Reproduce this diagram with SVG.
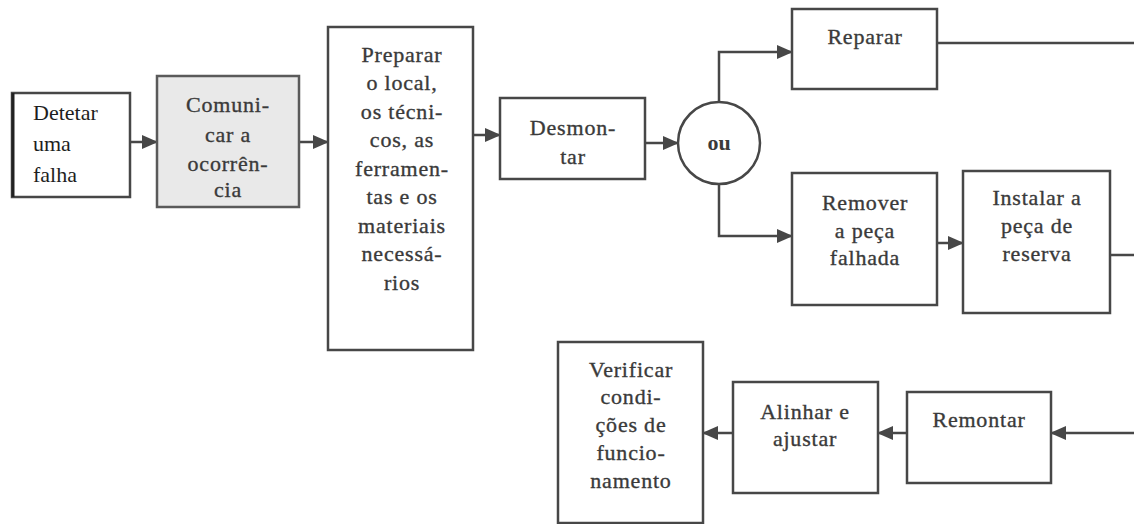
<svg xmlns="http://www.w3.org/2000/svg" width="1134" height="524" viewBox="0 0 1134 524">
  <style>
    .box { fill: #ffffff; stroke: #474747; stroke-width: 2.5; }
    .shaded { fill: #e9e9e9; stroke: #5a5a5a; stroke-width: 2.5; }
    .lbl { font-family: "Liberation Serif", "Times New Roman", "DejaVu Serif", serif; font-size: 22px; fill: #3a3a3a; stroke: #3a3a3a; stroke-width: 0.35; text-anchor: middle; letter-spacing: 0.8px; }
    .left { text-anchor: start; fill: #1e1e1e; stroke: none; letter-spacing: 0; }
    .ou { font-family: "Liberation Serif", "Times New Roman", serif; font-size: 22px; font-weight: bold; fill: #3a3a3a; text-anchor: middle; }
    .wire { fill: none; stroke: #474747; stroke-width: 2.5; }
  </style>
  <defs>
    <marker id="head" viewBox="0 0 16 14" refX="15" refY="7" markerWidth="16" markerHeight="14" markerUnits="userSpaceOnUse" orient="auto">
      <path d="M0,0 L16,7 L0,14 Z" fill="#474747"/>
    </marker>
  </defs>

  <rect width="1134" height="524" fill="#ffffff"/>

  <g id="connectors">
    <line class="wire" x1="130" y1="142" x2="157" y2="142" marker-end="url(#head)"/>
    <line class="wire" x1="299" y1="142" x2="328" y2="142" marker-end="url(#head)"/>
    <line class="wire" x1="473" y1="135" x2="500" y2="135" marker-end="url(#head)"/>
    <line class="wire" x1="645" y1="143" x2="678" y2="143" marker-end="url(#head)"/>
    <polyline class="wire" points="719,102 719,52 792,52" marker-end="url(#head)"/>
    <polyline class="wire" points="719,184 719,236 792,236" marker-end="url(#head)"/>
    <line class="wire" x1="937" y1="243" x2="963" y2="243" marker-end="url(#head)"/>
    <line class="wire" x1="937" y1="43" x2="1134" y2="43"/>
    <line class="wire" x1="1110" y1="255" x2="1134" y2="255"/>
    <line class="wire" x1="1134" y1="433" x2="1051" y2="433" marker-end="url(#head)"/>
    <line class="wire" x1="907" y1="433" x2="878" y2="433" marker-end="url(#head)"/>
    <line class="wire" x1="733" y1="433" x2="703" y2="433" marker-end="url(#head)"/>
  </g>

  <g id="detetar">
    <rect class="box" x="12" y="93" width="118" height="104"/>
    <line x1="13" y1="93" x2="13" y2="197" stroke="#222" stroke-width="3"/>
    <text class="lbl left" x="33" y="120">Detetar</text>
    <text class="lbl left" x="33" y="151">uma</text>
    <text class="lbl left" x="33" y="182">falha</text>
  </g>

  <g id="comunicar">
    <rect class="shaded" x="157" y="76" width="142" height="131"/>
    <text class="lbl" x="228" y="112">Comuni-</text>
    <text class="lbl" x="228" y="142">car a</text>
    <text class="lbl" x="228" y="171">ocorrên-</text>
    <text class="lbl" x="228" y="197">cia</text>
  </g>

  <g id="preparar">
    <rect class="box" x="328" y="27" width="145" height="323"/>
    <text class="lbl" x="402" y="62">Preparar</text>
    <text class="lbl" x="402" y="90">o local,</text>
    <text class="lbl" x="402" y="119">os técni-</text>
    <text class="lbl" x="402" y="147">cos, as</text>
    <text class="lbl" x="402" y="176">ferramen-</text>
    <text class="lbl" x="402" y="204">tas e os</text>
    <text class="lbl" x="402" y="233">materiais</text>
    <text class="lbl" x="402" y="261">necessá-</text>
    <text class="lbl" x="402" y="290">rios</text>
  </g>

  <g id="desmontar">
    <rect class="box" x="500" y="98" width="145" height="81"/>
    <text class="lbl" x="573" y="135">Desmon-</text>
    <text class="lbl" x="573" y="164">tar</text>
  </g>

  <g id="ou">
    <circle cx="719" cy="143" r="41" fill="#ffffff" stroke="#474747" stroke-width="2.5"/>
    <text class="ou" x="719" y="150">ou</text>
  </g>

  <g id="reparar">
    <rect class="box" x="792" y="9" width="145" height="80"/>
    <text class="lbl" x="865" y="44">Reparar</text>
  </g>

  <g id="remover">
    <rect class="box" x="792" y="173" width="145" height="132"/>
    <text class="lbl" x="865" y="210">Remover</text>
    <text class="lbl" x="865" y="238">a peça</text>
    <text class="lbl" x="865" y="265">falhada</text>
  </g>

  <g id="instalar">
    <rect class="box" x="963" y="171" width="147" height="142"/>
    <text class="lbl" x="1037" y="205">Instalar a</text>
    <text class="lbl" x="1037" y="233">peça de</text>
    <text class="lbl" x="1037" y="261">reserva</text>
  </g>

  <g id="remontar">
    <rect class="box" x="907" y="392" width="144" height="91"/>
    <text class="lbl" x="979" y="427">Remontar</text>
  </g>

  <g id="alinhar">
    <rect class="box" x="733" y="382" width="145" height="111"/>
    <text class="lbl" x="805" y="419">Alinhar e</text>
    <text class="lbl" x="805" y="446">ajustar</text>
  </g>

  <g id="verificar">
    <rect class="box" x="558" y="342" width="145" height="181"/>
    <text class="lbl" x="631" y="377">Verificar</text>
    <text class="lbl" x="631" y="404">condi-</text>
    <text class="lbl" x="631" y="432">ções de</text>
    <text class="lbl" x="631" y="460">funcio-</text>
    <text class="lbl" x="631" y="488">namento</text>
  </g>
</svg>
